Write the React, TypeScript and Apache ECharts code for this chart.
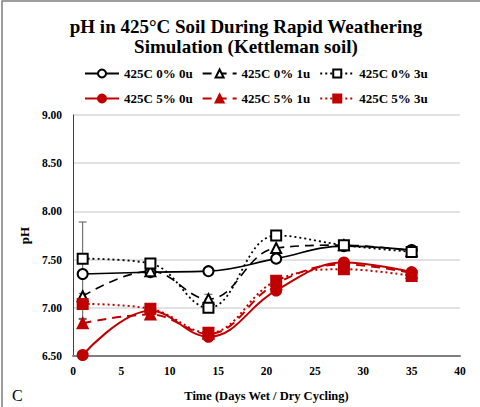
import React, { useEffect, useRef } from "react";
import * as echarts from "echarts";

const days = [1, 8, 14, 21, 28, 35];
const ph0_0u = [7.35, 7.37, 7.38, 7.51, 7.64, 7.6];
const ph0_1u = [7.12, 7.38, 7.09, 7.62, 7.65, 7.59];
const ph0_3u = [7.51, 7.46, 7.0, 7.75, 7.65, 7.58];
const ph5_0u = [6.51, 6.97, 6.7, 7.18, 7.47, 7.37];
const ph5_1u = [6.84, 6.93, 6.73, 7.25, 7.45, 7.36];
const ph5_3u = [7.04, 6.99, 6.74, 7.28, 7.4, 7.33];
// error bars: [day, low, high]
const errorBars = [
  [1, 6.88, 7.89],
  [1, 7.09, 7.15],
  [14, 7.04, 7.14],
  [1, 6.8, 6.89],
  [8, 6.9, 6.98],
];
const seriesNames = [
  "425C 0% 0u",
  "425C 0% 1u",
  "425C 0% 3u",
  "425C 5% 0u",
  "425C 5% 1u",
  "425C 5% 3u",
];
const xTicks = { min: 0, max: 40, interval: 5 };
const yTicks = { min: 6.5, max: 9, interval: 0.5 };

const FONT = "Liberation Serif";
const RED = "#c00000";
const BLACK = "#000000";

export default function App() {
  const ref = useRef<HTMLDivElement>(null);
  useEffect(() => {
    if (!ref.current) return;
    const chart = echarts.init(ref.current, null, { renderer: "svg" });
    const values = [ph0_0u, ph0_1u, ph0_3u, ph5_0u, ph5_1u, ph5_3u];
    const styles = [
      { color: BLACK, type: "solid", symbol: "circle", fill: "#fff", w: 1.6 },
      { color: BLACK, type: [9, 6], symbol: "triangle", fill: "#fff", w: 1.6 },
      { color: BLACK, type: [2, 3], symbol: "rect", fill: "#fff", w: 1.8 },
      { color: RED, type: "solid", symbol: "circle", fill: RED, w: 2 },
      { color: RED, type: [9, 6], symbol: "triangle", fill: RED, w: 2 },
      { color: RED, type: [2, 3], symbol: "rect", fill: RED, w: 2 },
    ];
    const lineSeries = values.map((vals, i) => ({
      name: seriesNames[i],
      type: "line",
      smooth: 0.4,
      data: days.map((d, j) => [d, vals[j]]),
      symbol: styles[i].symbol,
      symbolSize: 10,
      lineStyle: { color: styles[i].color, width: styles[i].w, type: styles[i].type },
      itemStyle: {
        color: styles[i].fill,
        borderColor: styles[i].color,
        borderWidth: 2,
      },
      z: 3,
    }));
    const errSeries = {
      type: "custom",
      name: "err",
      data: errorBars,
      z: 2,
      renderItem: (params: any, api: any) => {
        const x = api.value(0);
        const lo = api.coord([x, api.value(1)]);
        const hi = api.coord([x, api.value(2)]);
        const w = 4;
        const style = { stroke: "#595959", lineWidth: 1 };
        return {
          type: "group",
          children: [
            { type: "line", shape: { x1: lo[0], y1: lo[1], x2: hi[0], y2: hi[1] }, style },
            { type: "line", shape: { x1: lo[0] - w, y1: lo[1], x2: lo[0] + w, y2: lo[1] }, style },
            { type: "line", shape: { x1: hi[0] - w, y1: hi[1], x2: hi[0] + w, y2: hi[1] }, style },
          ],
        };
      },
    };
    const legendCommon = {
      left: 84,
      itemWidth: 34,
      itemHeight: 10,
      itemGap: 9,
      textStyle: { fontFamily: FONT, fontSize: 13, fontWeight: "bold", color: "#000" },
      padding: 0,
    };
    chart.setOption({
      animation: false,
      backgroundColor: "#fff",
      title: {
        text: "pH in 425°C Soil During Rapid Weathering\nSimulation (Kettleman soil)",
        left: 241,
        top: 11,
        textAlign: "center",
        textStyle: {
          fontFamily: FONT,
          fontSize: 19,
          fontWeight: "bold",
          color: "#000",
          lineHeight: 20,
        },
      },
      legend: [
        { ...legendCommon, top: 67, data: seriesNames.slice(0, 3) },
        { ...legendCommon, top: 92, data: seriesNames.slice(3, 6) },
      ],
      grid: { left: 73, right: 20, top: 115, bottom: 44 },
      xAxis: {
        type: "value",
        ...xTicks,
        name: "Time (Days Wet / Dry Cycling)",
        nameLocation: "middle",
        nameGap: 33,
        nameTextStyle: { fontFamily: FONT, fontSize: 12.5, fontWeight: "bold", color: "#000" },
        axisLine: { lineStyle: { color: "#7f7f7f", width: 2 } },
        axisTick: { show: false },
        splitLine: { show: false },
        axisLabel: { fontFamily: FONT, fontSize: 11.5, fontWeight: "bold", color: "#000", margin: 9 },
      },
      yAxis: {
        type: "value",
        ...yTicks,
        name: "pH",
        nameLocation: "middle",
        nameGap: 33,
        nameTextStyle: { fontFamily: FONT, fontSize: 13, fontWeight: "bold", color: "#000" },
        axisLine: { show: true, lineStyle: { color: "#404040", width: 1 } },
        axisTick: { show: false },
        splitLine: { lineStyle: { color: "#d9d9d9", width: 1.5 } },
        axisLabel: {
          fontFamily: FONT,
          fontSize: 11.5,
          fontWeight: "bold",
          color: "#000",
          margin: 11,
          formatter: (v: number) => v.toFixed(2),
        },
      },
      graphic: [
        {
          type: "rect",
          shape: { x: 2, y: 1, width: 490, height: 420 },
          style: { fill: "none", stroke: "#7f7f7f", lineWidth: 1.5 },
          silent: true,
        },
        {
          type: "text",
          left: 12,
          top: 387,
          style: { text: "C", fontFamily: FONT, fontSize: 16, fill: "#000" },
        },
      ],
      series: [errSeries, ...lineSeries],
    });
    return () => chart.dispose();
  }, []);
  return <div ref={ref} style={{ width: 480, height: 407, position: "absolute", left: 0, top: 0 }} />;
}
